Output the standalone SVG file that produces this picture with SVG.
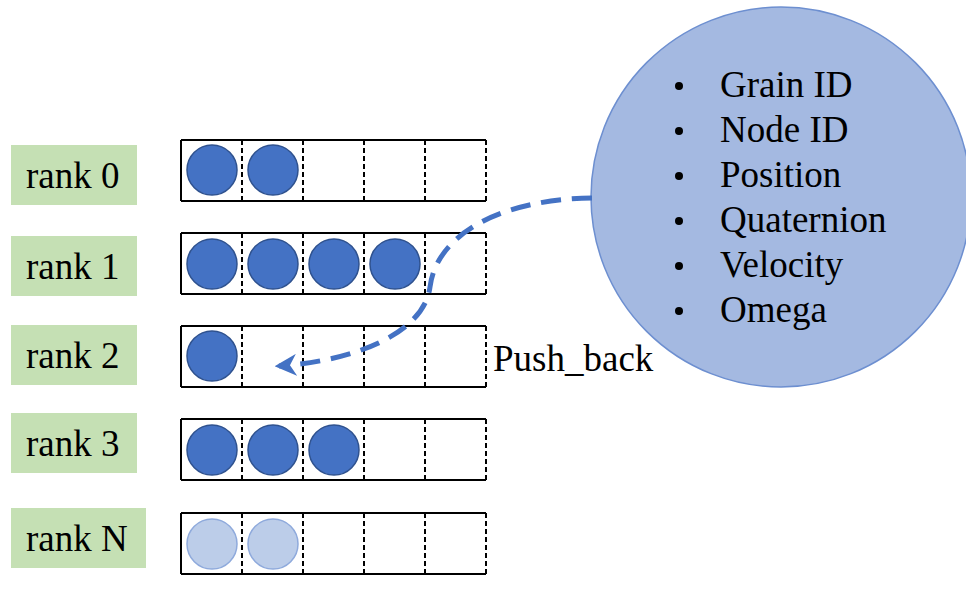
<svg xmlns="http://www.w3.org/2000/svg" width="966" height="595" viewBox="0 0 966 595">
<style>
.lbl{fill:#c5e0b4}
.t{font-family:'Liberation Serif','Times New Roman',serif;fill:#000}
.rt{font-size:37px}
.bt{font-size:37px}
.solid{fill:none;stroke:#000;stroke-width:2}
.dash{fill:none;stroke:#000;stroke-width:2;stroke-dasharray:5 3}
.g{fill:#4472c4;stroke:#2f528f;stroke-width:1.5}
.gl{fill:#bccde9;stroke:#8faadc;stroke-width:1.5}
</style>
<defs>
<g id="arr">
<path class="solid" d="M181,0 H486 M181,61 H486 M181,0 V61"/>
<path class="dash" d="M242,0 V61 M303,0 V61 M364,0 V61 M425,0 V61 M486,0 V61"/>
</g>
<marker id="ah" viewBox="0 0 10 10" refX="8" refY="5" markerWidth="4.4" markerHeight="4.4" orient="auto" markerUnits="strokeWidth">
<path d="M0,0 L10,5 L0,10 L3,5 Z" fill="#4472c4"/>
</marker>
</defs>

<g id="bubble">
<circle cx="781" cy="197" r="190" fill="#a4b9e1" stroke="#6d8fd0" stroke-width="1.5"/>
<g class="t bt">
<circle cx="679" cy="86" r="4"/><text x="720" y="97">Grain ID</text>
<circle cx="679" cy="131" r="4"/><text x="720" y="142">Node ID</text>
<circle cx="679" cy="176" r="4"/><text x="720" y="187">Position</text>
<circle cx="679" cy="221" r="4"/><text x="720" y="232">Quaternion</text>
<circle cx="679" cy="266" r="4"/><text x="720" y="277">Velocity</text>
<circle cx="679" cy="311" r="4"/><text x="720" y="322">Omega</text>
</g>
</g>

<g id="rank0">
<rect class="lbl" x="11" y="145" width="126" height="60"/>
<text class="t rt" x="26" y="188">rank 0</text>
<use href="#arr" y="140"/>
<circle class="g" cx="212" cy="170" r="25"/>
<circle class="g" cx="273" cy="170" r="25"/>
</g>
<g id="rank1">
<rect class="lbl" x="11" y="236" width="126" height="60"/>
<text class="t rt" x="26" y="279">rank 1</text>
<use href="#arr" y="233"/>
<circle class="g" cx="212" cy="264" r="25"/>
<circle class="g" cx="273" cy="264" r="25"/>
<circle class="g" cx="334" cy="264" r="25"/>
<circle class="g" cx="395" cy="264" r="25"/>
</g>
<g id="rank2">
<rect class="lbl" x="11" y="325" width="126" height="60"/>
<text class="t rt" x="26" y="368">rank 2</text>
<use href="#arr" y="326"/>
<circle class="g" cx="212" cy="356" r="25"/>
</g>
<g id="rank3">
<rect class="lbl" x="11" y="413" width="126" height="60"/>
<text class="t rt" x="26" y="456">rank 3</text>
<use href="#arr" y="419"/>
<circle class="g" cx="212" cy="450" r="25"/>
<circle class="g" cx="273" cy="450" r="25"/>
<circle class="g" cx="334" cy="450" r="25"/>
</g>
<g id="rankN">
<rect class="lbl" x="11" y="508" width="135" height="60"/>
<text class="t rt" x="26" y="551">rank N</text>
<use href="#arr" y="513"/>
<circle class="gl" cx="212" cy="544" r="25"/>
<circle class="gl" cx="273" cy="544" r="25"/>
</g>

<g id="pushlabel">
<text class="t rt" x="493" y="371">Push_back</text>
</g>

<g id="connectors">
<path d="M592,198 C505,199 437,232 430,287 C424,333 355,361 279,366" fill="none" stroke="#4472c4" stroke-width="5" stroke-dasharray="20 11" marker-end="url(#ah)"/>
</g>
</svg>
